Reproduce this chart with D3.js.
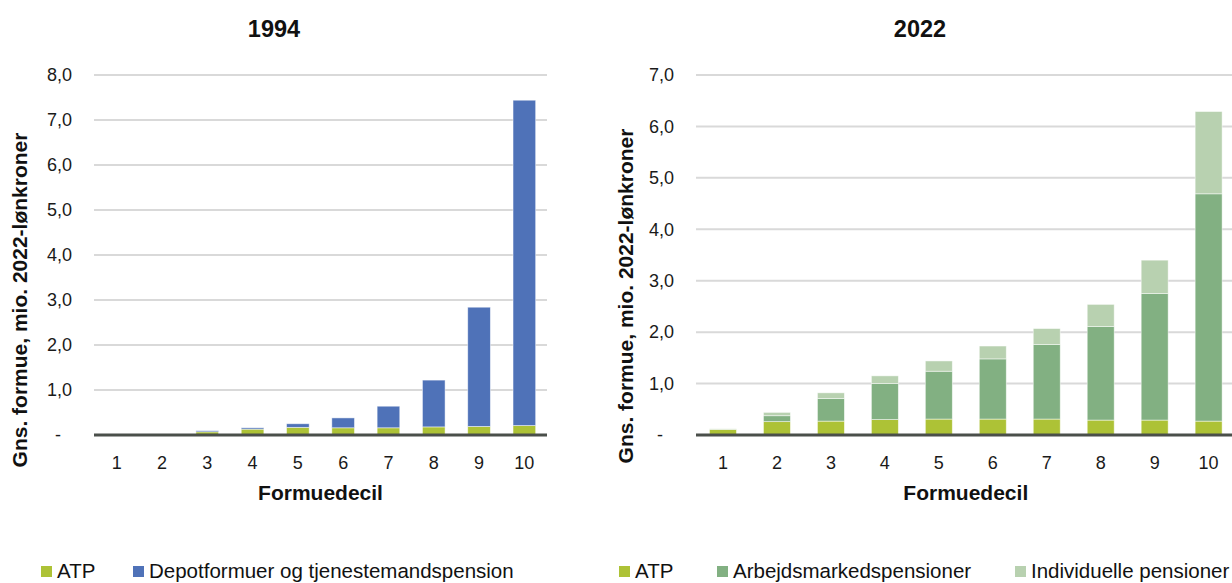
<!DOCTYPE html>
<html>
<head>
<meta charset="utf-8">
<script src="https://cdn.jsdelivr.net/npm/d3@7"></script>
<style>
  html, body { margin: 0; padding: 0; background: #fff; }
  svg { display: block; font-family: "Liberation Sans", Arial, Helvetica, sans-serif; }
</style>
</head>
<body>
<svg id="chart" width="1232" height="583"></svg>
<script>
// Formuedeciler 1-10
const deciles = ["1", "2", "3", "4", "5", "6", "7", "8", "9", "10"];

// 1994: gns. formue, mio. 2022-lønkroner
const atp1994 = [0.01, 0.02, 0.07, 0.13, 0.17, 0.16, 0.16, 0.18, 0.19, 0.21];
const depot1994 = [0.0, 0.0, 0.025, 0.03, 0.08, 0.22, 0.48, 1.04, 2.65, 7.23];

// 2022: gns. formue, mio. 2022-lønkroner
const atp2022 = [0.11, 0.26, 0.27, 0.30, 0.31, 0.31, 0.31, 0.29, 0.29, 0.27];
const arbejds2022 = [0.005, 0.115, 0.44, 0.70, 0.93, 1.17, 1.45, 1.82, 2.46, 4.42];
const individ2022 = [0.005, 0.065, 0.11, 0.15, 0.20, 0.25, 0.31, 0.43, 0.65, 1.60];

const yTicks1994 = [0, 1, 2, 3, 4, 5, 6, 7, 8];
const yTicks2022 = [0, 1, 2, 3, 4, 5, 6, 7];

const colors = {
  atp: "#adc236",
  depot: "#4f72b8",
  arbejds: "#82b082",
  individ: "#b8d1b0"
};

const svg = d3.select("#chart");
const FONT_TICK = 18;
const FONT_AXIS = 21;
const FONT_LEGEND = 20.5;
const FONT_TITLE = 23.5;

const fmt = v => v === 0 ? "-" : d3.format(".1f")(v).replace(".", ",");

function panel(cfg) {
  const g = svg.append("g");
  const x = d3.scaleBand().domain(deciles).range([cfg.x0, cfg.x1]).paddingInner(0.5).paddingOuter(0.25);
  const y = d3.scaleLinear().domain([0, cfg.yMax]).range([435, 75]);

  // gridlines
  g.append("g").selectAll("line").data(cfg.ticks.filter(t => t > 0)).join("line")
    .attr("x1", cfg.x0).attr("x2", cfg.gridEnd)
    .attr("y1", d => y(d)).attr("y2", d => y(d))
    .attr("stroke", "#d9d9d9").attr("stroke-width", 2);

  // y tick labels
  g.append("g").selectAll("text").data(cfg.ticks).join("text")
    .attr("x", d => d === 0 ? cfg.x0 - 33 : cfg.x0 - 22)
    .attr("y", d => y(d))
    .attr("dy", "0.35em")
    .attr("text-anchor", "end")
    .attr("font-size", FONT_TICK)
    .attr("fill", "#1a1a1a")
    .text(fmt);

  // stacked bars
  const table = deciles.map((d, i) => {
    const row = { decile: d };
    cfg.series.forEach(s => { row[s.key] = s.values[i]; });
    return row;
  });
  const stack = d3.stack().keys(cfg.series.map(s => s.key))(table);
  g.append("g").selectAll("g").data(stack).join("g")
    .attr("fill", s => cfg.series.find(c => c.key === s.key).color)
    .selectAll("rect").data(s => s).join("rect")
    .attr("x", d => x(d.data.decile))
    .attr("width", x.bandwidth())
    .attr("y", d => y(d[1]))
    .attr("height", d => Math.max(0, y(d[0]) - y(d[1])))
    .attr("stroke", "#ffffff").attr("stroke-opacity", 0.6).attr("stroke-width", 0.8);

  // baseline
  g.append("line")
    .attr("x1", cfg.x0).attr("x2", cfg.gridEnd)
    .attr("y1", y(0)).attr("y2", y(0))
    .attr("stroke", "#4a4f4a").attr("stroke-width", 3);

  // x axis tick labels
  const xAxis = d3.axisBottom(x).tickSize(0).tickPadding(0);
  const xa = g.append("g").attr("transform", `translate(0,${y(0)})`).call(xAxis);
  xa.select(".domain").remove();
  xa.selectAll("text")
    .attr("y", 34)
    .attr("dy", 0)
    .attr("font-size", FONT_TICK)
    .attr("font-family", "Liberation Sans, Arial, sans-serif")
    .attr("fill", "#1a1a1a");

  // x axis title
  g.append("text")
    .attr("x", (cfg.x0 + cfg.x1) / 2).attr("y", 500)
    .attr("text-anchor", "middle")
    .attr("font-size", FONT_AXIS).attr("font-weight", "bold")
    .attr("fill", "#111")
    .text("Formuedecil");

  // y axis title
  g.append("text")
    .attr("transform", `translate(${cfg.yLabelX},${cfg.yLabelY}) rotate(-90)`)
    .attr("text-anchor", "middle")
    .attr("font-size", FONT_AXIS).attr("font-weight", "bold")
    .attr("fill", "#111")
    .text("Gns. formue, mio. 2022-lønkroner");

  // chart title
  g.append("text")
    .attr("x", cfg.titleX).attr("y", 37)
    .attr("text-anchor", "middle")
    .attr("font-size", FONT_TITLE).attr("font-weight", "bold")
    .attr("fill", "#111")
    .text(cfg.title);

  // legend
  const lg = g.append("g");
  cfg.series.forEach((s, i) => {
    const lx = cfg.legendX[i];
    lg.append("rect").attr("x", lx).attr("y", 566).attr("width", 11).attr("height", 11).attr("fill", s.color);
    lg.append("text").attr("x", lx + 16).attr("y", 578)
      .attr("font-size", FONT_LEGEND).attr("fill", "#111")
      .text(s.label);
  });
}

panel({
  title: "1994", titleX: 274,
  x0: 94, x1: 547, gridEnd: 547,
  yMax: 8, ticks: yTicks1994,
  yLabelX: 27, yLabelY: 300,
  legendX: [41, 133],
  series: [
    { key: "atp", label: "ATP", values: atp1994, color: colors.atp },
    { key: "depot", label: "Depotformuer og tjenestemandspension", values: depot1994, color: colors.depot }
  ]
});

panel({
  title: "2022", titleX: 920,
  x0: 696, x1: 1235.6, gridEnd: 1232,
  yMax: 7, ticks: yTicks2022,
  yLabelX: 633, yLabelY: 296,
  legendX: [619, 717, 1015],
  series: [
    { key: "atp", label: "ATP", values: atp2022, color: colors.atp },
    { key: "arbejds", label: "Arbejdsmarkedspensioner", values: arbejds2022, color: colors.arbejds },
    { key: "individ", label: "Individuelle pensioner", values: individ2022, color: colors.individ }
  ]
});
</script>
</body>
</html>
